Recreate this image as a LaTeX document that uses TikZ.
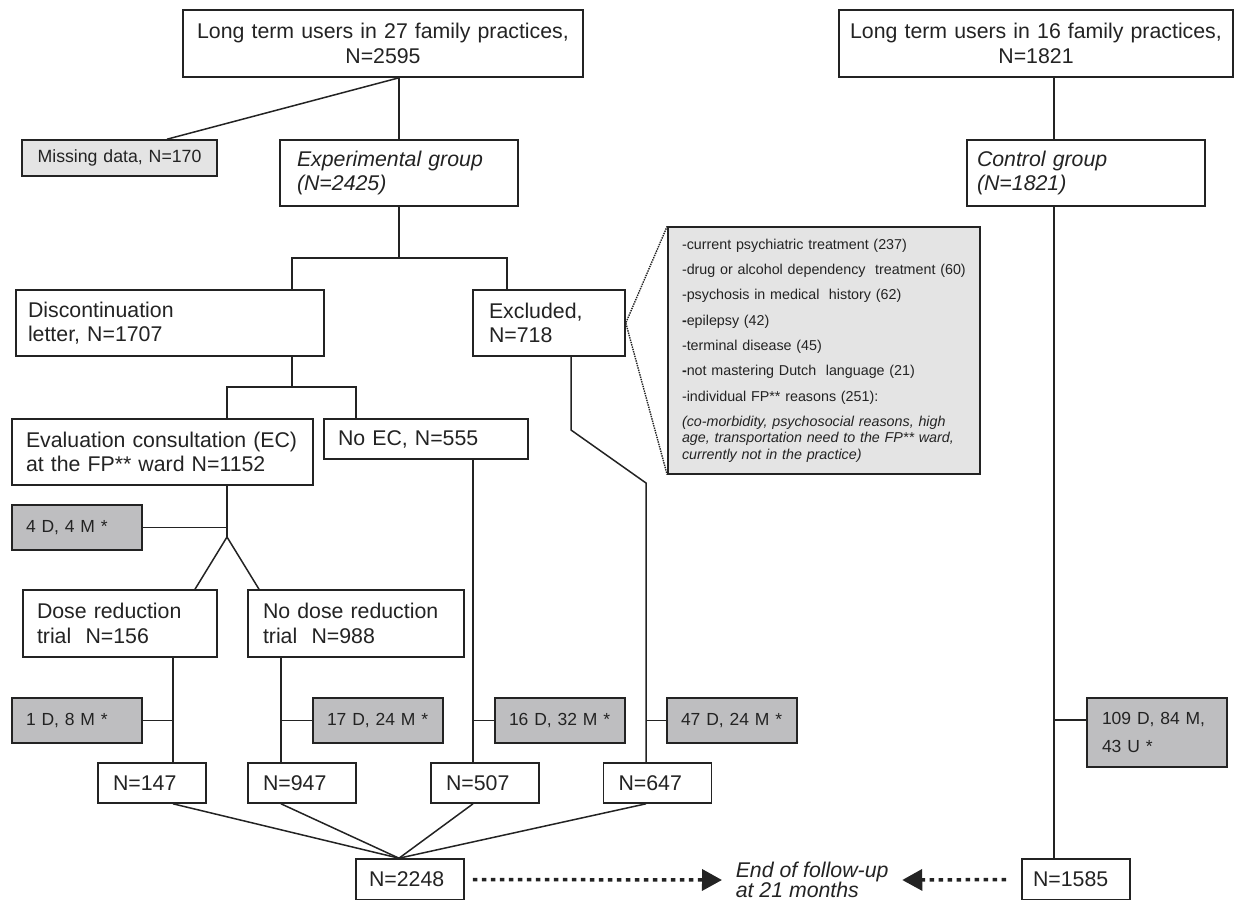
\documentclass[tikz,border=0pt]{standalone}
\usepackage{fontspec}
\setmainfont{Liberation Sans}
\usetikzlibrary{arrows.meta}
\definecolor{linec}{RGB}{35,35,35}
\definecolor{dgrey}{RGB}{190,190,192}
\definecolor{lgrey}{RGB}{228,228,228}
\newcommand{\bsz}{\fontsize{21.3}{24.5}\selectfont}
\newcommand{\msz}{\fontsize{17.5}{28}\selectfont}

\begin{document}
\begin{tikzpicture}[x=1pt, y=-1pt, color=linec, line width=1.5pt,
		box/.style={draw=linec, line width=1.6pt, fill=white, inner xsep=14pt, inner ysep=0pt, align=left, font=\bsz},
		count/.style={box, fill=dgrey, font=\msz, minimum width=130pt, minimum height=45pt, text width=102pt},
		nbox/.style={box, minimum height=40pt, text width=78pt, inner xsep=15pt},
		follow/.style={line width=3.5pt, dash pattern=on 4.5pt off 4.5pt, -{Triangle[length=20pt,width=21pt]}}]
		\useasboundingbox (0,0) rectangle (1235,900);

		\node[box, align=center, text width=372pt, minimum height=67pt] (lt27) at (383,43.5) {Long term users in 27 family practices,\\N=2595};
		\node[box, align=center, text width=374pt, inner xsep=10pt, minimum height=67pt] (lt16) at (1036,43.5) {Long term users in 16 family practices,\\N=1821};
		\node[box, fill=lgrey, align=center, font=\fontsize{17.7}{20}\selectfont, text width=175pt, inner xsep=10pt, minimum height=36pt] (miss) at (119.5,158) {Missing data, N=170};
		\node[box, font=\bsz\itshape, text width=204pt, inner xsep=17pt, minimum height=66pt] (exper) at (399,173) {Experimental group\\(N=2425)};
		\node[box, font=\bsz\itshape, text width=218pt, inner xsep=10pt, minimum height=66pt] (contr) at (1086,173) {Control group\\(N=1821)};
		\node[box, text width=284pt, inner xsep=12pt, minimum height=66pt] (disc) at (170,323) {Discontinuation\\letter, N=1707};
		\node[box, text width=120pt, inner xsep=16pt, minimum height=66pt] (excl) at (549,323) {Excluded,\\N=718};
		\node[box, fill=lgrey, text width=284pt, minimum height=247pt, font=\fontsize{14.3}{16.6}\selectfont] (reasons) at (824,350.5)
			{-current psychiatric treatment (237)\\[8.7pt]
			-drug or alcohol dependency\ \ treatment (60)\\[8.7pt]
			-psychosis in medical\ \ history (62)\\[8.7pt]
			\textbf{-}epilepsy (42)\\[8.7pt]
			-terminal disease (45)\\[8.7pt]
			\textbf{-}not mastering Dutch\ \ language (21)\\[8.7pt]
			-individual FP** reasons (251):\\[8.4pt]
			\itshape (co-morbidity, psychosocial reasons, high\\
			age, transportation need to the FP** ward,\\
			currently not in the practice)};
		\node[box, text width=273pt, minimum height=66pt] (eval) at (162.5,452) {Evaluation consultation (EC)\\at the FP** ward N=1152};
		\node[box, text width=176pt, minimum height=40pt] (noec) at (426,439) {No EC, N=555};
		\node[count] (cnt1) at (77,527.5) {4 D, 4 M *};
		\node[box, text width=166pt, minimum height=67pt] (dose) at (120,623.5) {Dose reduction\\trial~~N=156};
		\node[box, text width=186pt, inner xsep=15pt, minimum height=67pt] (nodose) at (356,623.5) {No dose reduction\\trial~~N=988};
		\node[count] (cnt2) at (77,720.5) {1 D, 8 M *};
		\node[count] (cnt3) at (378,720.5) {17 D, 24 M *};
		\node[count] (cnt4) at (560,720.5) {16 D, 32 M *};
		\node[count] (cnt5) at (732,720.5) {47 D, 24 M *};
		\node[count, minimum width=140pt, text width=110pt, minimum height=69pt, inner xsep=15pt] (cnt6) at (1157,732.5) {109 D, 84 M,\\43 U *};
		\node[nbox] (n147) at (152,783) {N=147};
		\node[nbox] (n947) at (302,783) {N=947};
		\node[nbox] (n507) at (485,783) {N=507};
		\node[nbox] (n647) at (657.5,783) {N=647};
		\node[nbox, inner xsep=13pt, text width=82pt, minimum height=41pt] (n2248) at (410,879.5) {N=2248};
		\node[nbox, inner xsep=11pt, text width=86pt, minimum height=41pt] (n1585) at (1076,879.5) {N=1585};
		\node[font={\fontsize{21.3}{20}\selectfont\itshape}, align=left, inner xsep=13pt, inner ysep=0pt, anchor=west] (fu) at (722,880) {End of follow-up\\at 21 months};

		\coordinate (xa) at (399,0);
		\coordinate (xb) at (173,0);
		\coordinate (xc) at (281,0);
		\coordinate (xd) at (473,0);
		\coordinate (xr) at (1054,0);
		\coordinate (j1) at (399,258);
		\coordinate (j2) at (292,387);
		\coordinate (j3) at (227,537);
		\coordinate (k1) at (571,430);
		\coordinate (k2) at (646,483);
		\coordinate (c6) at ([yshift=12.5pt]cnt6.west);

		\draw (lt27.south -| xa) -- (exper.north -| xa);
		\draw (lt27.south -| xa) -- ([xshift=47.5pt]miss.north);
		\draw (exper.south) -- (j1);
		\draw ([xshift=122pt]disc.north) |- (j1) -| ([xshift=-42pt]excl.north);
		\draw ([xshift=122pt]disc.south) -- (j2);
		\draw ([xshift=64.5pt]eval.north) |- (j2) -| ([xshift=-70pt]noec.north);
		\draw ([xshift=64.5pt]eval.south) -- (j3);
		\draw (cnt1.east) -- (cnt1.east -| j3);
		\draw ([xshift=75pt]dose.north) -- (j3) -- ([xshift=-97pt]nodose.north);
		\draw (dose.south -| xb) -- (n147.north -| xb);
		\draw (cnt2.east) -- (cnt2.east -| xb);
		\draw (nodose.south -| xc) -- (n947.north -| xc);
		\draw (cnt3.west) -- (cnt3.west -| xc);
		\draw (noec.south -| xd) -- (n507.north -| xd);
		\draw (cnt4.west) -- (cnt4.west -| xd);
		\draw (excl.south -| k1) -- (k1) -- (k2) -- (n647.north -| k2);
		\draw (cnt5.west) -- (cnt5.west -| k2);
		\draw[densely dotted, line width=1.4pt] (reasons.north west) -- (excl.east) -- (reasons.south west);
		\draw (lt16.south -| xr) -- (contr.north -| xr);
		\draw (contr.south -| xr) -- (n1585.north -| xr);
		\draw (c6) -- (c6 -| xr);
		\foreach \n/\x in {n147/xb, n947/xc, n507/xd, n647/k2}
			\draw (n2248.north -| xa) -- (\n.south -| \x);
		\draw[follow, shorten <=8pt] (n2248.east) -- (fu.west);
		\draw[follow, shorten <=15pt] (n1585.west) -- (fu.east);
	\end{tikzpicture}
\end{document}
